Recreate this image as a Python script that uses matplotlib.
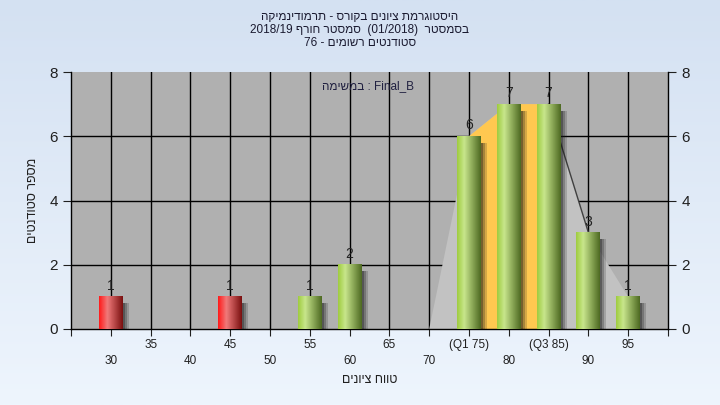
import numpy as np
import matplotlib
matplotlib.use("Agg")
import matplotlib.pyplot as plt
from matplotlib.colors import LinearSegmentedColormap
from matplotlib.patches import Rectangle, Polygon
import matplotlib.transforms as mtransforms

plt.rcParams['font.family'] = ['Liberation Sans', 'DejaVu Sans']

# ---------------- data ----------------
categories = [30, 35, 40, 45, 50, 55, 60, 65, 70, 75, 80, 85, 90, 95]
counts = [1, 0, 0, 1, 0, 1, 2, 0, 0, 6, 7, 7, 3, 1]
pass_grade = 55
q1, q3 = 75, 85
upper_ticks = [35, 45, 55, 65, 75, 85, 95]
upper_labels = ['35', '45', '55', '65', '(Q1 75)', '(Q3 85)', '95']
lower_ticks = [30, 40, 50, 60, 70, 80, 90]
lower_labels = ['30', '40', '50', '60', '70', '80', '90']
area_x = [70, 75, 80, 85, 90, 95]
area_y = [0, 6, 7, 7, 3, 1]


def vis(s):
    # visual (left-to-right) order of a right-to-left Hebrew run
    return s[::-1]


title1 = vis("היסטוגרמת ציונים בקורס - תרמודינמיקה")
title2 = "2018/19 " + vis("סמסטר חורף") + "  (01/2018)  " + vis("בסמסטר")
title3 = "76 - " + vis("סטודנטים רשומים")
task_text = vis("במשימה") + " : Final_B"
ylabel = vis("מספר סטודנטים")
xlabel = vis("טווח ציונים")

# ---------------- figure ----------------
fig = plt.figure(figsize=(7.2, 4.05), dpi=100)

bg = fig.add_axes([0, 0, 1, 1], zorder=-5)
grad = np.linspace(0, 1, 256).reshape(-1, 1)
bg_cmap = LinearSegmentedColormap.from_list('bg', ['#d4e1f2', '#eef5fd'])
bg.imshow(grad, aspect='auto', cmap=bg_cmap, extent=[0, 1, 0, 1])
bg.axis('off')

L, R, B, T = 71 / 720, 668 / 720, 1 - 329 / 405, 1 - 72 / 405
ax = fig.add_axes([L, B, R - L, T - B])
ax.set_facecolor('#b0b0b0')
ax.set_xlim(25, 100)
ax.set_ylim(0, 8)

# grid
for c in categories:
    ax.axvline(c, color='black', lw=1.0, zorder=1)
for yv in [2, 4, 6]:
    ax.axhline(yv, color='black', lw=1.0, zorder=1)

# area behind bars
pts_all = list(zip(area_x, area_y)) + [(area_x[-1], 0)]
ax.add_patch(Polygon(pts_all, closed=True, facecolor='#c2c2c2', edgecolor='none', zorder=1.5))
iq = [(x, y) for x, y in zip(area_x, area_y) if q1 <= x <= q3]
ax.add_patch(Polygon(iq + [(q3, 0), (q1, 0)], closed=True, facecolor='#ffc850',
                     edgecolor='none', zorder=1.6))
i85 = area_x.index(q3)
ax.plot(area_x[i85:i85 + 2], area_y[i85:i85 + 2], color='#404040', lw=1.0, zorder=1.7)

# bars with gradient
red_cmap = LinearSegmentedColormap.from_list('r', [(0, '#ff1a1a'), (0.35, '#f07a7a'), (1, '#7a1010')])
green_cmap = LinearSegmentedColormap.from_list('g', [(0, '#9fcc40'), (0.3, '#c8e68c'), (1, '#4e6a22')])
bw = 3.0
row = np.linspace(0, 1, 64).reshape(1, -1)
for c, v in zip(categories, counts):
    if v <= 0:
        continue
    x0 = c - bw / 2
    # soft shadow on the right
    for k, a in zip([0.75, 0.5, 0.25], [0.18, 0.25, 0.35]):
        ax.add_patch(Rectangle((x0 + k, -0.05), bw, v - 0.15, facecolor='#1a1a1a',
                               edgecolor='none', alpha=a, zorder=2))
    cmap = red_cmap if c < pass_grade else green_cmap
    ax.imshow(row, cmap=cmap, aspect='auto', extent=[x0, x0 + bw, 0, v], zorder=3,
              interpolation='bilinear')
    ax.text(c, v + 0.12, str(v), ha='center', va='bottom', fontsize=10, color='#222222', zorder=4)

ax.set_xlim(25, 100)
ax.set_ylim(0, 8)
ax.set_aspect('auto')

# axes styling
ax.spines['top'].set_visible(False)
for s in ['left', 'right', 'bottom']:
    ax.spines[s].set_color('black')
    ax.spines[s].set_linewidth(1.0)
ax.set_yticks([0, 2, 4, 6, 8])
ax.tick_params(axis='y', which='both', left=True, right=True, labelleft=True, labelright=True,
               direction='out', length=6, labelsize=11, colors='#202020')
ax.set_xticks(np.arange(25, 101, 5))
ax.set_xticklabels([])
ax.tick_params(axis='x', direction='out', length=5, colors='#202020')

trans = mtransforms.blended_transform_factory(ax.transData, ax.transAxes)
for t, lab in zip(upper_ticks, upper_labels):
    ax.text(t, -0.062, lab, transform=trans, ha='center', va='center', fontsize=8.5, color='#202020')
for t, lab in zip(lower_ticks, lower_labels):
    ax.text(t, -0.125, lab, transform=trans, ha='center', va='center', fontsize=8.5, color='#202020')

ax.text(0.5, -0.198, xlabel, transform=ax.transAxes, ha='center', va='center', fontsize=9, color='#202020')
ax.text(-0.064, 0.5, ylabel, transform=ax.transAxes, ha='center', va='center', rotation=90,
        fontsize=9, color='#202020')

ax.text((368 - 71) / 597, (329 - 86) / 257, task_text, transform=ax.transAxes, ha='center',
        va='center', fontsize=8.5, color='#202040', zorder=5)

fig.text(0.5, 1 - 17 / 405, title1, ha='center', va='center', fontsize=8.5, color='#1a1a30')
fig.text(0.5, 1 - 30 / 405, title2, ha='center', va='center', fontsize=8.5, color='#1a1a30')
fig.text(0.5, 1 - 43 / 405, title3, ha='center', va='center', fontsize=8.5, color='#1a1a30')

fig.savefig('out.png', dpi=100)
